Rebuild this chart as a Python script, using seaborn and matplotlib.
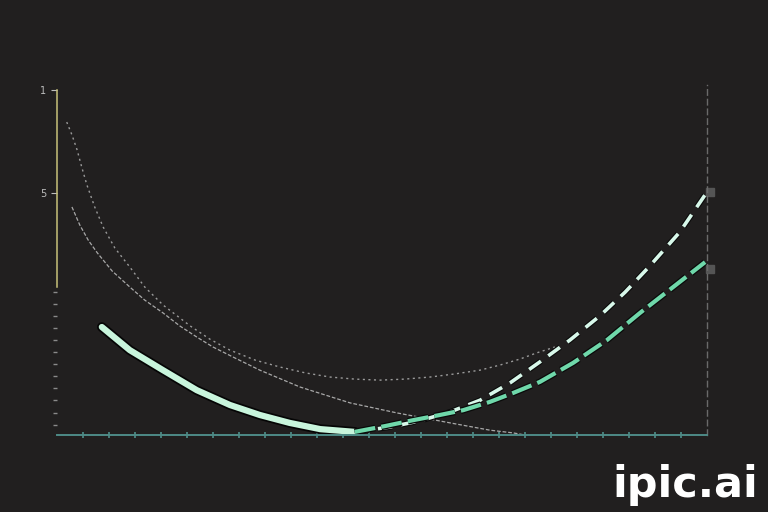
import numpy as np
import pandas as pd
import matplotlib.pyplot as plt
import matplotlib.patheffects as pe
import seaborn as sns

# values (x and y in 0-100 axis units)
falling_x = [6.9, 11.2, 16.3, 21.5, 26.6, 31.2, 35.8, 40.5, 45.8]
falling_y = [31.3, 24.6, 18.8, 13.0, 8.7, 5.8, 3.5, 1.7, 0.9]

upper_rise_x = [45.8, 51.2, 55.8, 60.5, 65.1, 69.7, 74.3, 78.9, 83.5, 87.4, 91.2, 95.8, 99.7]
upper_rise_y = [0.9, 2.3, 4.1, 6.7, 10.1, 15.1, 21.2, 27.5, 34.5, 41.4, 49.0, 58.8, 69.6]

lower_rise_x = [45.8, 50.5, 54.8, 58.9, 62.5, 66.6, 70.2, 74.3, 79.4, 84.6, 89.7, 94.8, 99.7]
lower_rise_y = [0.9, 2.6, 4.3, 5.8, 7.2, 9.6, 12.2, 15.4, 20.9, 27.5, 35.4, 42.9, 50.1]

bowl_x = [1.5, 2.3, 3.1, 3.8, 4.6, 5.8, 7.1, 8.9, 11.2, 13.5, 16.3, 20.5, 23.5, 26.6,
          30.5, 34.3, 38.2, 42.0, 45.8, 49.7, 53.5, 57.4, 61.2, 65.1, 68.2, 71.2, 73.8, 76.6]
bowl_y = [90.7, 87.0, 82.6, 77.7, 72.5, 66.1, 60.3, 54.2, 48.7, 42.9, 37.7, 31.6, 27.8, 24.6,
          21.7, 19.7, 18.0, 16.8, 16.2, 15.9, 16.2, 16.8, 17.7, 18.8, 20.3, 22.0, 23.8, 25.5]

decay_x = [2.3, 3.5, 4.8, 6.2, 8.5, 11.2, 13.5, 16.3, 18.9, 21.5, 24.0, 27.4, 31.2,
           37.4, 45.1, 52.3, 60.5, 66.6, 70.2, 72.0]
decay_y = [66.1, 60.9, 56.5, 52.8, 47.5, 42.9, 39.1, 35.4, 31.6, 28.4, 25.5, 22.3, 18.8,
           13.9, 9.3, 6.4, 3.5, 1.4, 0.6, 0.0]

ytick_values = [70, 100]
ytick_labels = ['5', '1']

BG = '#211f1f'

sns.set_theme(style='dark', rc={'axes.facecolor': BG, 'figure.facecolor': BG})
plt.rcParams['font.family'] = ['DejaVu Sans']

fig = plt.figure(figsize=(7.68, 5.12), dpi=100)
ax = fig.add_axes([0.0742, 0.1504, 0.8464, 0.6836])

def curve(xs, ys, **kw):
    df = pd.DataFrame({'x': xs, 'y': ys})
    sns.lineplot(data=df, x='x', y='y', ax=ax, sort=False, estimator=None, **kw)

curve(bowl_x, bowl_y, color='#9a9a9a', linewidth=1.0, linestyle=(0, (1.5, 2.5)))
curve(decay_x, decay_y, color='#a8a8a8', linewidth=0.9, linestyle=(0, (3, 1.5)))

curve(falling_x, falling_y, color='#c8f5dc', linewidth=4.5,
      solid_capstyle='round', solid_joinstyle='round',
      path_effects=[pe.Stroke(linewidth=7, foreground='#050505'), pe.Normal()])
curve(upper_rise_x, upper_rise_y, color='#d8f8ea', linewidth=2.6,
      linestyle=(0, (4, 2.5)),
      path_effects=[pe.Stroke(linewidth=4.2, foreground='#0a0a0a'), pe.Normal()])
curve(lower_rise_x, lower_rise_y, color='#6fd8aa', linewidth=3.0,
      linestyle=(0, (5, 1.5)),
      path_effects=[pe.Stroke(linewidth=4.8, foreground='#0a0a0a'), pe.Normal()])

ax.set_xlim(0, 100)
ax.set_ylim(0, 101.45)
ax.set_xlabel('')
ax.set_ylabel('')

ax.spines['top'].set_visible(False)
ax.spines['left'].set_visible(True)
ax.spines['left'].set_color('#c8c27a')
ax.spines['left'].set_linewidth(1.1)
ax.spines['left'].set_bounds(43, 100)
ax.spines['bottom'].set_visible(True)
ax.spines['bottom'].set_color('#4e8a86')
ax.spines['bottom'].set_linewidth(1.4)
ax.spines['right'].set_visible(True)
ax.spines['right'].set_color('#6a6a6a')
ax.spines['right'].set_linewidth(1.0)
ax.spines['right'].set_linestyle((0, (4, 3)))

ax.set_yticks(ytick_values)
ax.set_yticklabels(ytick_labels)
ax.set_yticks(np.arange(3, 43, 3.5), minor=True)
ax.set_xticks(np.arange(4, 100, 4))
ax.set_xticklabels([])
ax.tick_params(axis='y', which='major', colors='#bdbdbd', labelsize=7,
               length=4, width=0.8, direction='out', left=True)
ax.tick_params(axis='y', which='minor', colors='#8a8a8a', length=3,
               width=1.0, left=True)
ax.tick_params(axis='x', which='major', colors='#4f8f8a', length=5,
               width=1.2, direction='inout', bottom=True)
ax.grid(False)

# small square markers at the right edge
ax.plot([100.4, 100.4], [70.5, 48.0], linestyle='none', marker='s',
        markersize=6, color='#555555', clip_on=False)

fig.text(0.987, 0.012, 'ipic.ai', color='white', fontsize=31,
         fontweight='bold', ha='right', va='bottom')

fig.savefig('out.png', dpi=100, facecolor=BG)
